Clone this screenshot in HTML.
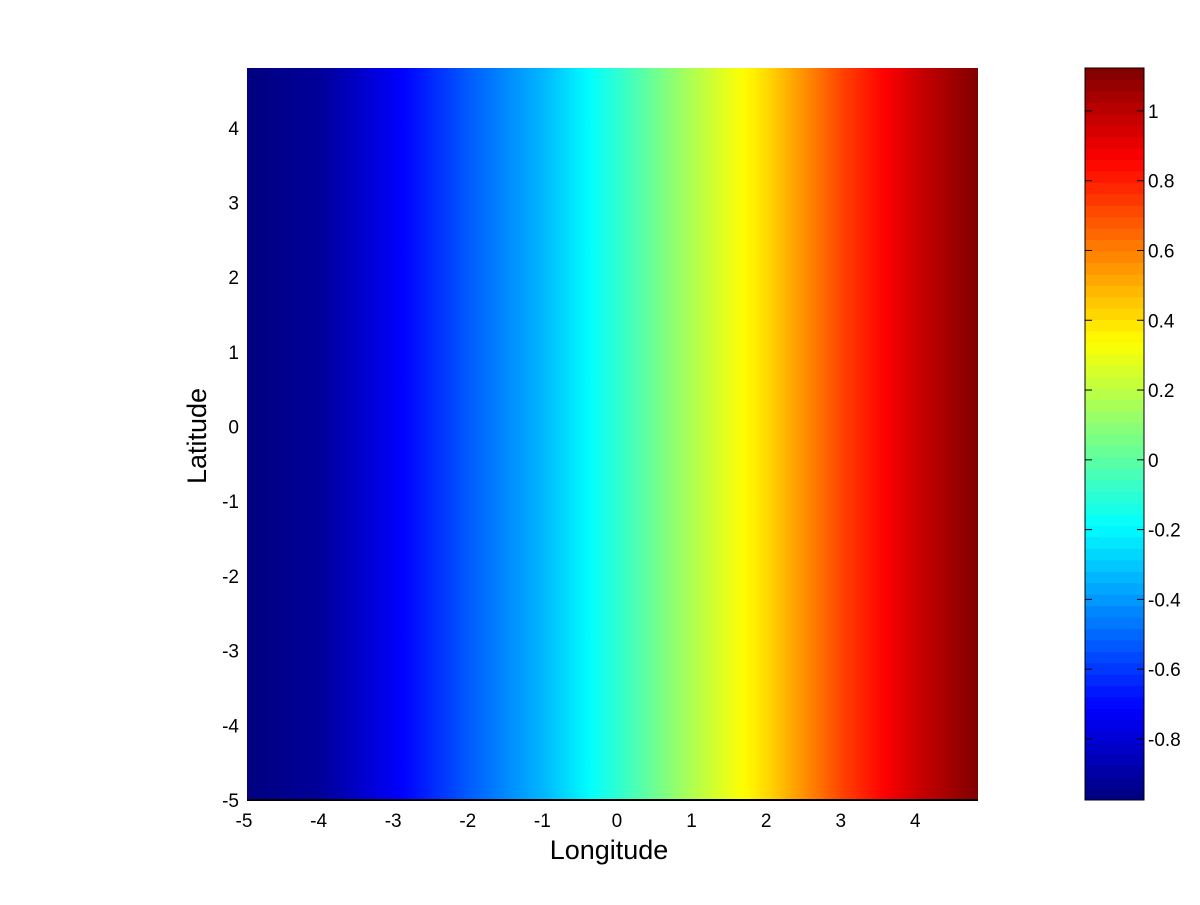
<!DOCTYPE html>
<html><head><meta charset="utf-8"><style>
body{margin:0;background:#fff;}
svg text{font-family:"Liberation Sans",Arial,sans-serif;fill:#000;}
</style></head><body>
<svg id="chart" width="1200" height="900" xmlns="http://www.w3.org/2000/svg">
<defs><linearGradient id="fieldGrad" x1="0" x2="1" y1="0" y2="0"></linearGradient></defs>
<g id="plot"></g>
<g id="axes"></g>
<g id="cbar"></g>
<text x="609" y="859" font-size="27" text-anchor="middle">Longitude</text>
<text transform="translate(206,436) rotate(-90)" font-size="27" text-anchor="middle">Latitude</text>
</svg>
<script>
const lonSamples=[-5,-4,-3,-2,-1,0,1,2,3,4,4.8];
const fieldValues=[-0.975,-0.92,-0.73,-0.52,-0.33,-0.09,0.18,0.42,0.73,0.97,1.123];
const xTicks=[-5,-4,-3,-2,-1,0,1,2,3,4];
const yTicks=[-5,-4,-3,-2,-1,0,1,2,3,4];
const cbarTicks=[-0.8,-0.6,-0.4,-0.2,0,0.2,0.4,0.6,0.8,1];
const cmin=-0.975,cmax=1.123;
const NS='http://www.w3.org/2000/svg';
const L=247,R=978,T=68,B=800,xmin=-5,xmax=4.8,ymin=-5,ymax=4.8;
const sx=v=>L+(v-xmin)/(xmax-xmin)*(R-L);
const sy=v=>B-(v-ymin)/(ymax-ymin)*(B-T);
const CL=1085,CR=1144;
const cy=v=>B-(v-cmin)/(cmax-cmin)*(B-T);
function jet(f){f=Math.max(0,Math.min(1,f));
 const c=x=>Math.round(255*Math.max(0,Math.min(1,x)));
 return `rgb(${c(Math.min(4*f-1.5,-4*f+4.5))},${c(Math.min(4*f-0.5,-4*f+3.5))},${c(Math.min(4*f+0.5,-4*f+2.5))})`;}
function interp(x){for(let i=0;i<lonSamples.length-1;i++){if(x<=lonSamples[i+1]){const t=(x-lonSamples[i])/(lonSamples[i+1]-lonSamples[i]);return fieldValues[i]+t*(fieldValues[i+1]-fieldValues[i]);}}return fieldValues[fieldValues.length-1];}
function mk(tag,attrs,parent){const e=document.createElementNS(NS,tag);for(const k in attrs)e.setAttribute(k,attrs[k]);parent.appendChild(e);return e;}
const grad=document.getElementById('fieldGrad');
for(let k=0;k<=98;k++){const x=xmin+k*0.1;const v=interp(x);
 mk('stop',{offset:(k/98).toFixed(4),'stop-color':jet((v-cmin)/(cmax-cmin))},grad);}
const plot=document.getElementById('plot');
const fld=mk('rect',{x:L,y:T,width:R-L,height:B-T,fill:'url(#fieldGrad)'},plot);


const axes=document.getElementById('axes');
const bl=mk('line',{x1:L,y1:B,x2:R,y2:B,stroke:'#000','stroke-width':2},axes);


xTicks.forEach(t=>{const tx=mk('text',{x:sx(t)-3,y:B+27,'font-size':19,'text-anchor':'middle'},axes);tx.textContent=t;
 
 });
yTicks.forEach(t=>{const tx=mk('text',{x:L-8,y:sy(t)+7,'font-size':19,'text-anchor':'end'},axes);tx.textContent=t;
 
 });
const cb=document.getElementById('cbar');
const N=64;
for(let i=0;i<N;i++){const v0=cmin+i*(cmax-cmin)/N,v1=cmin+(i+1)*(cmax-cmin)/N;
 const r=mk('rect',{x:CL,y:cy(v1),width:CR-CL,height:cy(v0)-cy(v1)+0.5,fill:jet((i+0.5)/N)},cb);
 
 }
const fr=mk('rect',{x:CL,y:T,width:CR-CL,height:B-T,fill:'none',stroke:'#000','stroke-width':1},cb);


cbarTicks.forEach(t=>{const y=cy(t);
 mk('line',{x1:CL,y1:y,x2:CL+7,y2:y,stroke:'#000'},cb);
 mk('line',{x1:CR-7,y1:y,x2:CR,y2:y,stroke:'#000'},cb);
 const tx=mk('text',{x:CR+4,y:y+7,'font-size':19},cb);tx.textContent=Math.round(t*10)/10;
 
 });
</script>
</body></html>
